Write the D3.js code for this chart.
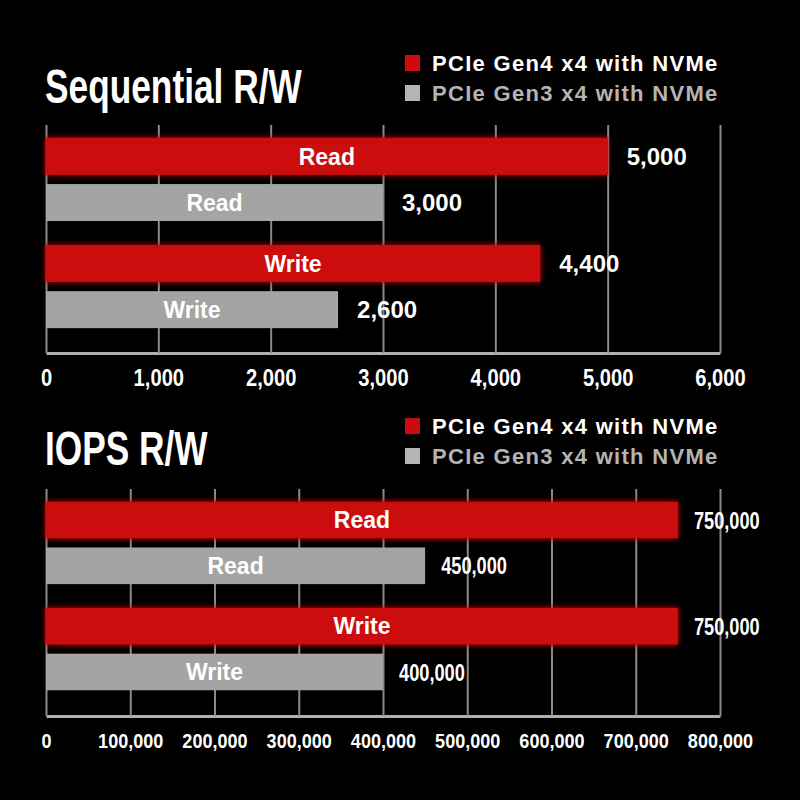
<!DOCTYPE html>
<html>
<head>
<meta charset="utf-8">
<script src="https://cdn.jsdelivr.net/npm/d3@7"></script>
<style>
  html, body { margin: 0; padding: 0; background: #000; }
  svg { display: block; }
  text { font-family: "Liberation Sans", Arial, sans-serif; }
</style>
</head>
<body>
<script>
// data
const groups = ["Read", "Write"];
const seriesKeys = ["gen4", "gen3"];
const seriesNames = ["PCIe Gen4 x4 with NVMe", "PCIe Gen3 x4 with NVMe"];
const seqGen4 = [5000, 4400];
const seqGen3 = [3000, 2600];
const iopsGen4 = [750000, 750000];
const iopsGen3 = [450000, 400000];
const seqTicks = [0, 1000, 2000, 3000, 4000, 5000, 6000];
const iopsTicks = [0, 100000, 200000, 300000, 400000, 500000, 600000, 700000, 800000];

const Color = { red: "#cc0a10", grey: "#a4a4a4", legendGrey: "#b4b4b4", grid: "#8a8a8a", axis: "#b0b0b0" };

const svg = d3.select("body").append("svg")
    .attr("width", 800).attr("height", 800);

svg.append("rect").attr("width", 800).attr("height", 800).attr("fill", "#000");

const defs = svg.append("defs");
const glow = defs.append("filter").attr("id", "glow")
    .attr("x", "-5%").attr("y", "-40%").attr("width", "110%").attr("height", "180%");
glow.append("feGaussianBlur").attr("in", "SourceGraphic").attr("stdDeviation", 3).attr("result", "b");
const merge = glow.append("feMerge");
merge.append("feMergeNode").attr("in", "b");
merge.append("feMergeNode").attr("in", "SourceGraphic");

const fmt = d3.format(",");

// condensed look: no narrow font is installed, so squeeze the glyphs
const squeeze = (tx, ty, s) => `translate(${tx},${ty}) scale(${s},1)`;

const drawPanel = (opt) => {
    const g = svg.append("g");
    const x = d3.scaleLinear().domain([0, d3.max(opt.ticks)]).range([46, 720]);
    const y0 = d3.scaleBand().domain(groups).range(opt.yRange).paddingInner(0.224).paddingOuter(0.12);
    const y1 = d3.scaleBand().domain(seriesKeys).range([0, y0.bandwidth()]).paddingInner(0.2);

    const rows = [];
    groups.forEach((grp, i) => {
        rows.push({ group: grp, key: "gen4", value: opt.gen4[i] });
        rows.push({ group: grp, key: "gen3", value: opt.gen3[i] });
    });

    // title
    g.append("text")
        .attr("transform", squeeze(45, opt.titleY, 0.72))
        .attr("font-size", 49).attr("fill", "#fff")
        .attr("font-weight", "bold")
        .text(opt.title);

    // legend
    const leg = g.append("g").attr("transform", `translate(405,${opt.legendY})`);
    seriesNames.forEach((name, i) => {
        leg.append("rect").attr("x", 0).attr("y", i * 30).attr("width", 15).attr("height", 16)
            .attr("fill", i === 0 ? Color.red : Color.legendGrey);
        leg.append("text")
            .attr("x", 27).attr("y", i * 30 + 16)
            .attr("font-size", 22).attr("font-weight", "bold")
            .attr("letter-spacing", 1.3)
            .attr("fill", i === 0 ? "#fff" : Color.legendGrey)
            .text(name);
    });

    // grid + axis
    const axis = g.append("g").attr("transform", `translate(0,${opt.axisY})`)
        .call(d3.axisBottom(x).tickValues(opt.ticks).tickFormat(fmt)
            .tickSize(-(opt.axisY - opt.gridTop)).tickSizeOuter(0).tickPadding(0));
    axis.select(".domain").attr("stroke", Color.axis).attr("stroke-width", 3);
    axis.selectAll(".tick line").attr("stroke", Color.grid).attr("stroke-width", 2);
    axis.selectAll(".tick text")
        .attr("y", opt.tickY).attr("dy", 0)
        .attr("transform", `scale(${opt.tickScale},1)`)
        .attr("fill", "#fff").attr("font-size", opt.tickSize).attr("font-weight", "bold");

    // bars
    const bars = g.append("g").selectAll("g").data(rows).enter().append("g")
        .attr("transform", d => `translate(0,${y0(d.group) + y1(d.key)})`);
    bars.append("rect")
        .attr("x", x(0)).attr("width", d => x(d.value) - x(0))
        .attr("height", y1.bandwidth())
        .attr("fill", d => d.key === "gen4" ? Color.red : Color.grey)
        .attr("filter", d => d.key === "gen4" ? "url(#glow)" : null);
    bars.append("text")
        .attr("x", d => (x(0) + x(d.value)) / 2)
        .attr("y", y1.bandwidth() / 2).attr("dy", "0.36em")
        .attr("text-anchor", "middle")
        .attr("font-size", 23).attr("font-weight", "bold").attr("fill", "#fff")
        .text(d => d.group);
    bars.append("text")
        .attr("transform", d => squeeze(x(d.value) + opt.valueGap, y1.bandwidth() / 2, opt.valueScale))
        .attr("dy", "0.36em")
        .attr("font-size", opt.valueSize).attr("font-weight", "bold").attr("fill", "#fff")
        .text(d => fmt(d.value));
};

drawPanel({
    title: "Sequential R/W", titleY: 103, legendY: 55,
    ticks: seqTicks, gen4: seqGen4, gen3: seqGen3,
    yRange: [125, 341], gridTop: 125, axisY: 353,
    tickSize: 24, tickScale: 0.84, tickY: 33,
    valueSize: 24, valueScale: 1, valueGap: 19
});

drawPanel({
    title: "IOPS R/W", titleY: 465, legendY: 418,
    ticks: iopsTicks, gen4: iopsGen4, gen3: iopsGen3,
    yRange: [489, 703], gridTop: 489, axisY: 716,
    tickSize: 21, tickScale: 0.86, tickY: 32,
    valueSize: 24, valueScale: 0.76, valueGap: 16
});
</script>
</body>
</html>
